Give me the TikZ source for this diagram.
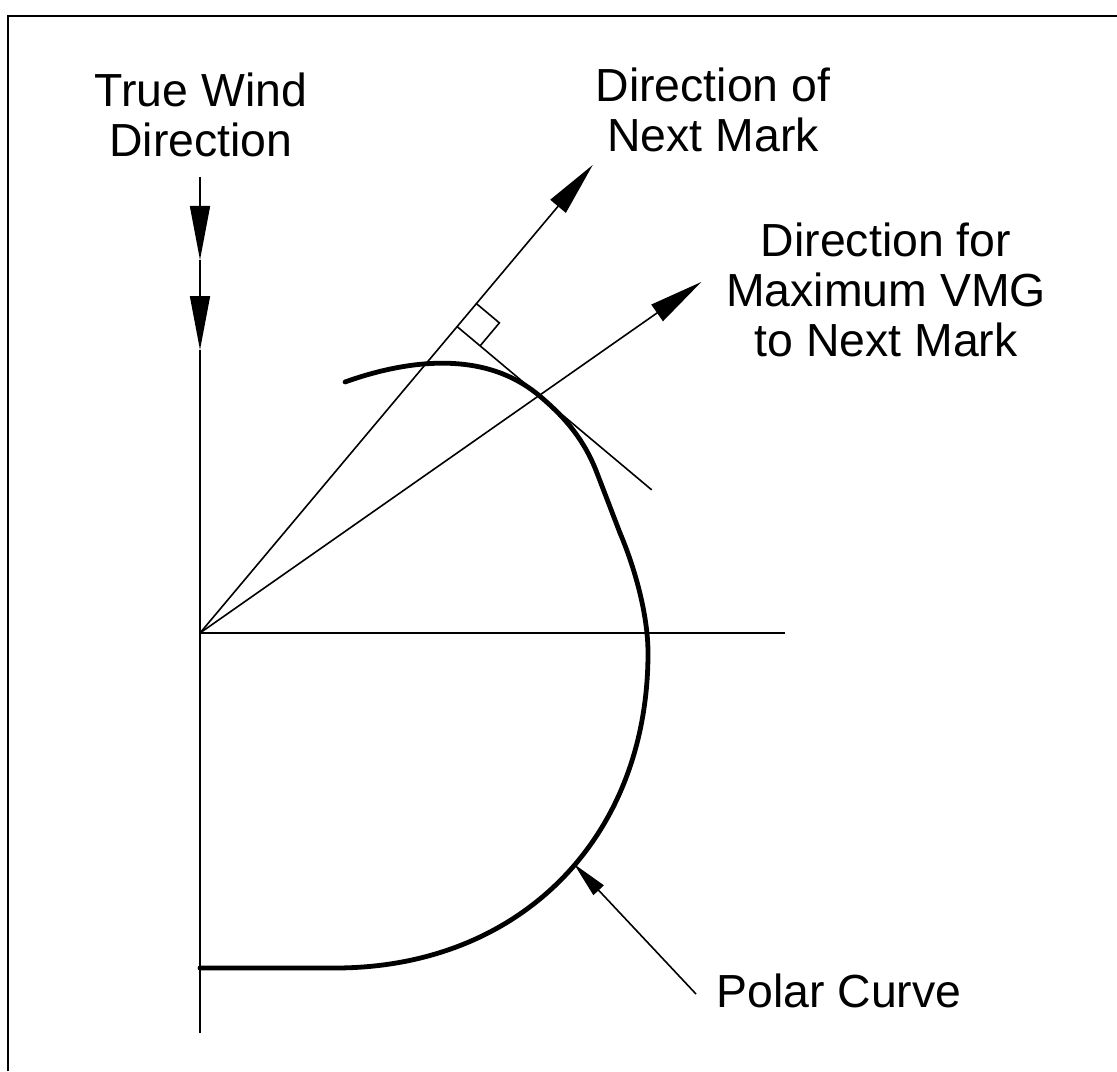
\documentclass[tikz,border=0pt]{standalone}
\usepackage{fontspec}
\setmainfont{Liberation Sans}
\usetikzlibrary{arrows.meta, calc}

\begin{document}
\begin{tikzpicture}[x=0.5pt, y=0.5pt,
  thinline/.style={line width=0.8pt},
  bigarrow/.style={thinline, -{Triangle[length=27pt, width=10pt]}},
  smallarrow/.style={thinline, -{Triangle[length=18pt, width=7pt]}},
  textlabel/.style={font=\fontsize{23.2}{25}\selectfont, align=center, anchor=north, inner sep=0pt},
  polar/.style={line width=2.4pt, line cap=round, line join=round}]

\useasboundingbox (-200,-438) rectangle (917,633);

% Frame
\draw[line width=1pt] (-192,-438) -- (-192,617) -- (917,617);

% Axes and true wind
\coordinate (O) at (0,0);
\coordinate (windtop) at (0,456);
\coordinate (windmid) at (0,373);
\coordinate (windlow) at (0,283);
\coordinate (axisbot) at (0,-400);
\coordinate (axisright) at (585,0);
\draw[bigarrow] (windtop) -- (windmid);
\draw[bigarrow] (windmid) -- (windlow);
\draw[thinline] (windlow) -- (axisbot);
\draw[thinline] (O) -- (axisright);

% Next mark and max VMG
\coordinate (mark) at (50:611);
\coordinate (vmg) at (35:612);
\coordinate (foot) at (50:400);
\coordinate (tang) at (35:414);
\coordinate (tanend) at ($(foot)+(-40:254)$);
\draw[bigarrow] (O) -- (mark);
\draw[bigarrow] (O) -- (vmg);
\draw[thinline] (foot) -- (tanend);
\draw[thinline] ($(foot)+(50:30)$) -- ++(-40:30) -- ($(foot)+(-40:30)$);

% Polar curve
\coordinate (pstart) at (0,-335);
\coordinate (pend) at (145,251);
\draw[polar] (pstart) -- (135,-335)
  .. controls (320,-335) and (448,-205) .. (448,-20)
  .. controls (448,20) and (433.7,67.8) .. (420,100)
  -- (397,160)
  .. controls (384.5,192.7) and (365.9,215) .. (tang)
  .. controls (281.5,285.7) and (201,271) .. (pend);

% Pointer
\coordinate (ptip) at (374,-231);
\coordinate (ptail) at (496,-361);
\draw[smallarrow] (ptail) -- (ptip);

% Labels
\node[textlabel] (windlabel) at (1,561) {True Wind\\Direction};
\node[textlabel] (marklabel) at (513,566) {Direction of\\Next Mark};
\node[textlabel] (vmglabel) at (686,411) {Direction for\\Maximum VMG\\to Next Mark};
\node[textlabel] (polarlabel) at (639,-340) {Polar Curve};

\end{tikzpicture}
\end{document}
